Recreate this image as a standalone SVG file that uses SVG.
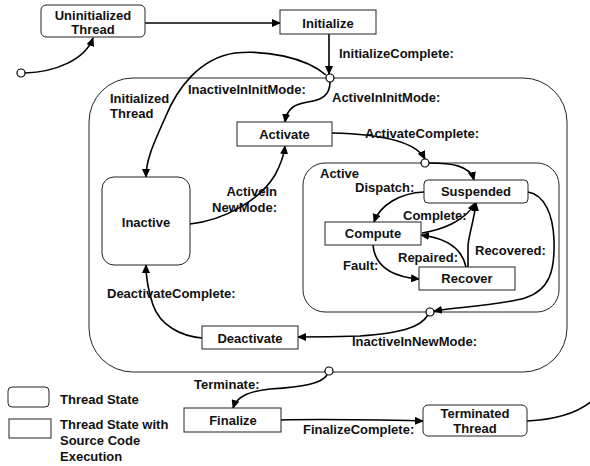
<svg xmlns="http://www.w3.org/2000/svg" width="590" height="466" viewBox="0 0 590 466">
<defs>
<marker id="ah" markerWidth="9" markerHeight="8" refX="8" refY="4" orient="auto" markerUnits="userSpaceOnUse">
<path d="M0,0 L9,4 L0,8 z" fill="#000"/>
</marker>
<style>
text{font-family:"Liberation Sans",Arial,sans-serif;font-weight:bold;font-size:13px;fill:#111}
.c{text-anchor:middle}
.e{text-anchor:end}
.box{fill:#fff;stroke:#222;stroke-width:1}
.cont{fill:none;stroke:#222;stroke-width:1}
.ln{fill:none;stroke:#000;stroke-width:1.6;marker-end:url(#ah)}
.ln0{fill:none;stroke:#000;stroke-width:1.6}
.jn{fill:#fff;stroke:#000;stroke-width:1.2}
</style>
</defs>
<rect width="590" height="466" fill="#fff"/>

<g id="outer"><rect class="cont" x="89" y="78" width="478" height="294" rx="44"/></g>
<g id="active"><rect class="cont" x="303" y="163" width="256" height="149" rx="22"/><text x="320" y="178">Active</text></g>

<g id="connectors">
<path class="ln" d="M25,73 C55,72 85,60 93,38"/>
<path class="ln" d="M145,23 L280,23"/>
<path class="ln" d="M329,34 L329,74"/>
<path class="ln" d="M326,75 C305,57 265,50 235,53 C200,58 177,88 165,118 C153,145 146,160 146,177"/>
<path class="ln" d="M330,82 C330,95 322,100 308,102 C295,104 287,108 285,122"/>
<path class="ln" d="M190,224 C225,220 260,200 275,175 C282,162 284,155 285,146"/>
<path class="ln" d="M332,133 C375,134 415,140 425,159"/>
<path class="ln" d="M429,163 C450,163 470,165 474,180"/>
<path class="ln" d="M424,192 C400,193 380,205 374,222"/>
<path class="ln" d="M422,233 C440,230 465,222 475,203"/>
<path class="ln" d="M466,267 C462,248 445,238 421,235"/>
<path class="ln" d="M468,267 L468,245 C470,230 474,220 476,203"/>
<path class="ln" d="M373,245 C375,268 395,277 419,279"/>
<path class="ln" d="M528,192 C545,195 553,215 554,240 C555,270 550,290 525,298 C500,305 460,307 434,311"/>
<path class="ln" d="M428,315 C420,328 400,333 360,336 C330,337 315,337 298,337"/>
<path class="ln" d="M202,338 C180,336 160,325 153,305 C148,290 146,280 146,265"/>
<path class="ln" d="M327,375 C322,383 305,387 270,389 C250,391 237,396 233,408"/>
<path class="ln" d="M281,420 C320,419 380,420 423,421"/>
<path class="ln0" d="M527,421 C550,420 575,415 592,401"/>
<circle class="jn" cx="21" cy="73" r="4"/>
<circle class="jn" cx="330" cy="78" r="4"/>
<circle class="jn" cx="425" cy="163" r="4"/>
<circle class="jn" cx="430" cy="312" r="4"/>
<circle class="jn" cx="329" cy="371" r="4"/>
</g>

<g id="uninitialized"><rect class="box" x="41" y="5" width="104" height="32" rx="5"/><text class="c" x="93" y="19.5">Uninitialized</text><text class="c" x="93" y="34">Thread</text></g>
<g id="initialize"><rect class="box" x="280" y="10" width="96" height="24"/><text class="c" x="328" y="27.5">Initialize</text></g>
<g id="activate"><rect class="box" x="237" y="122" width="95" height="24"/><text class="c" x="284.5" y="139">Activate</text></g>
<g id="inactive"><rect class="box" x="102" y="177" width="88" height="88" rx="12"/><text class="c" x="146" y="226.5">Inactive</text></g>
<g id="suspended"><rect class="box" x="424" y="180" width="104" height="23" rx="4"/><text class="c" x="476" y="196">Suspended</text></g>
<g id="compute"><rect class="box" x="325" y="222" width="96" height="23"/><text class="c" x="373" y="238">Compute</text></g>
<g id="recover"><rect class="box" x="419" y="267" width="96" height="23"/><text class="c" x="467" y="283">Recover</text></g>
<g id="deactivate"><rect class="box" x="202" y="326" width="96" height="23"/><text class="c" x="250" y="343">Deactivate</text></g>
<g id="finalize"><rect class="box" x="184" y="408" width="97" height="24"/><text class="c" x="233" y="425">Finalize</text></g>
<g id="terminated"><rect class="box" x="423" y="405" width="104" height="31" rx="5"/><text class="c" x="475" y="418">Terminated</text><text class="c" x="475" y="433">Thread</text></g>

<g id="labels">
<text x="339" y="58">InitializeComplete:</text>
<text x="188" y="94">InactiveInInitMode:</text>
<text x="332" y="102">ActiveInInitMode:</text>
<text x="110" y="103">Initialized</text>
<text x="110" y="118">Thread</text>
<text x="365" y="138">ActivateComplete:</text>
<text x="355" y="192">Dispatch:</text>
<text x="403" y="220">Complete:</text>
<text x="398" y="262">Repaired:</text>
<text x="475" y="255">Recovered:</text>
<text x="343" y="270">Fault:</text>
<text class="e" x="277" y="196">ActiveIn</text>
<text class="e" x="277" y="211.5">NewMode:</text>
<text x="107" y="298">DeactivateComplete:</text>
<text x="352" y="346">InactiveInNewMode:</text>
<text x="194" y="389">Terminate:</text>
<text x="303" y="434">FinalizeComplete:</text>
</g>

<g id="legend">
<rect class="box" x="8" y="387" width="41" height="20" rx="4"/>
<rect class="box" x="9" y="419" width="42" height="19"/>
<text x="60" y="404">Thread State</text>
<text x="60" y="429">Thread State with</text>
<text x="60" y="445">Source Code</text>
<text x="60" y="461">Execution</text>
</g>
</svg>
